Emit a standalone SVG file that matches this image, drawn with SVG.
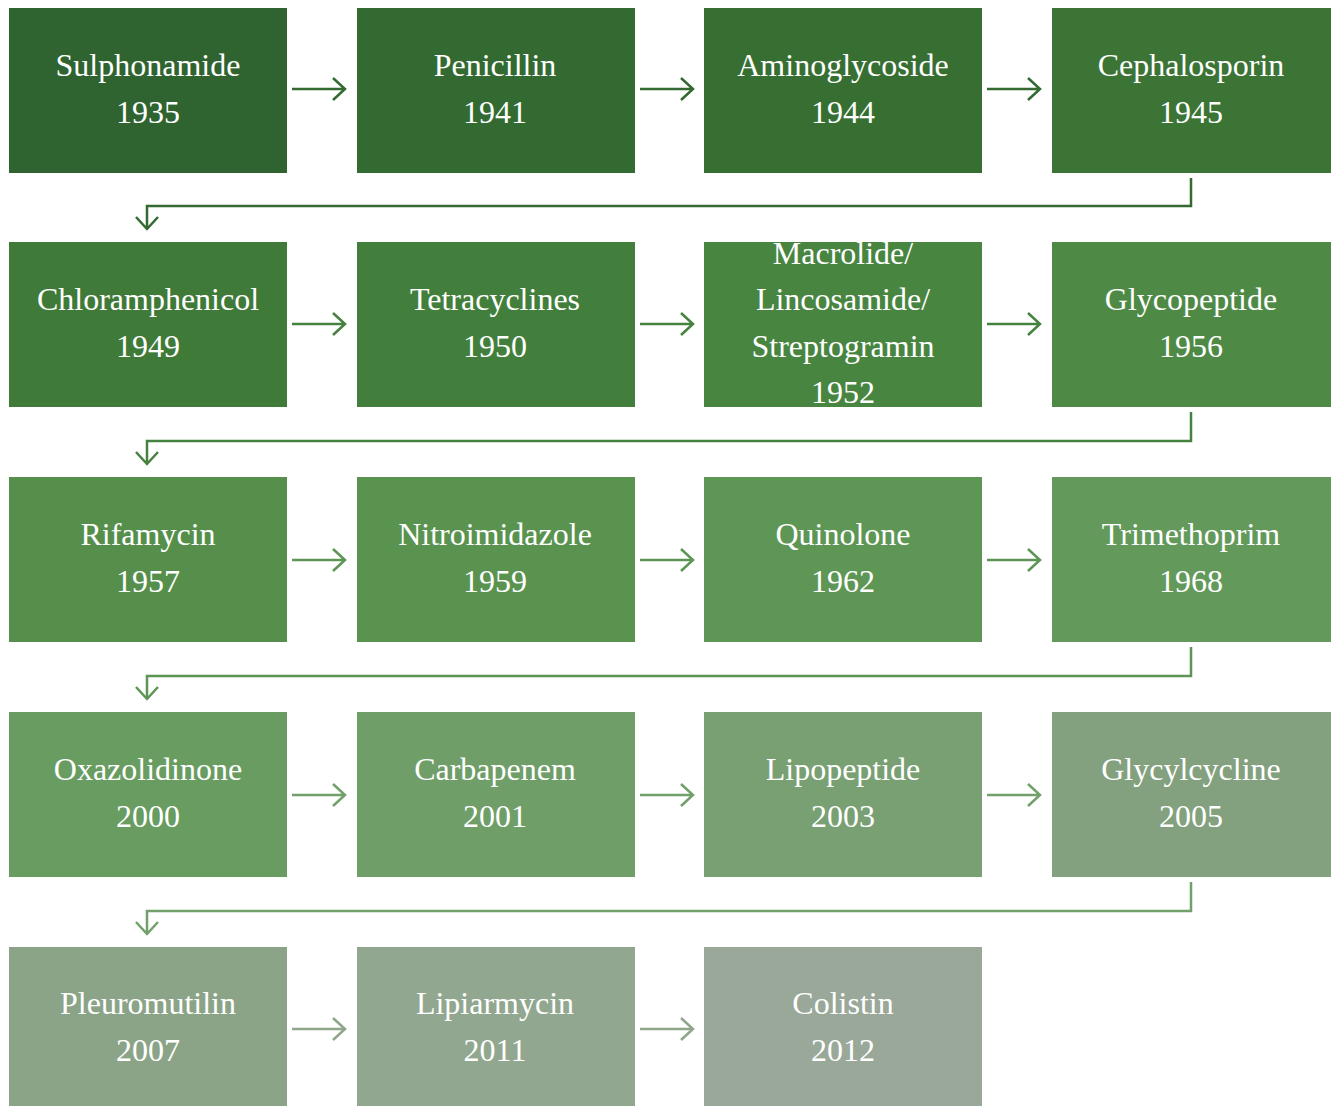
<svg xmlns="http://www.w3.org/2000/svg" width="1331" height="1106" viewBox="0 0 1331 1106">
<style>
.box text{font-family:'Liberation Serif','DejaVu Serif',serif;font-size:32px;fill:#ffffff;text-anchor:middle}
.conn path{fill:none;stroke-width:2.5;stroke-linecap:butt;stroke-linejoin:miter}
</style>
<rect width="1331" height="1106" fill="#ffffff"/>
<g id="n1" class="box"><rect x="9" y="8" width="278" height="165" fill="#2f6430"/><text x="148" y="76">Sulphonamide</text><text x="148" y="123">1935</text></g>
<g id="n2" class="box"><rect x="357" y="8" width="278" height="165" fill="#336a31"/><text x="495" y="76">Penicillin</text><text x="495" y="123">1941</text></g>
<g id="n3" class="box"><rect x="704" y="8" width="278" height="165" fill="#376f33"/><text x="843" y="76">Aminoglycoside</text><text x="843" y="123">1944</text></g>
<g id="n4" class="box"><rect x="1052" y="8" width="279" height="165" fill="#3b7435"/><text x="1191" y="76">Cephalosporin</text><text x="1191" y="123">1945</text></g>

<g id="n5" class="box"><rect x="9" y="242" width="278" height="165" fill="#3f7a39"/><text x="148" y="310">Chloramphenicol</text><text x="148" y="357">1949</text></g>
<g id="n6" class="box"><rect x="357" y="242" width="278" height="165" fill="#437f3c"/><text x="495" y="310">Tetracyclines</text><text x="495" y="357">1950</text></g>
<g id="n7" class="box"><rect x="704" y="242" width="278" height="165" fill="#488541"/><text x="843" y="264">Macrolide/</text><text x="843" y="310">Lincosamide/</text><text x="843" y="357">Streptogramin</text><text x="843" y="403">1952</text></g>
<g id="n8" class="box"><rect x="1052" y="242" width="279" height="165" fill="#4e8a45"/><text x="1191" y="310">Glycopeptide</text><text x="1191" y="357">1956</text></g>

<g id="n9" class="box"><rect x="9" y="477" width="278" height="165" fill="#558f4b"/><text x="148" y="545">Rifamycin</text><text x="148" y="592">1957</text></g>
<g id="n10" class="box"><rect x="357" y="477" width="278" height="165" fill="#5a9350"/><text x="495" y="545">Nitroimidazole</text><text x="495" y="592">1959</text></g>
<g id="n11" class="box"><rect x="704" y="477" width="278" height="165" fill="#5e9655"/><text x="843" y="545">Quinolone</text><text x="843" y="592">1962</text></g>
<g id="n12" class="box"><rect x="1052" y="477" width="279" height="165" fill="#639a5b"/><text x="1191" y="545">Trimethoprim</text><text x="1191" y="592">1968</text></g>

<g id="n13" class="box"><rect x="9" y="712" width="278" height="165" fill="#689c60"/><text x="148" y="780">Oxazolidinone</text><text x="148" y="827">2000</text></g>
<g id="n14" class="box"><rect x="357" y="712" width="278" height="165" fill="#6f9e68"/><text x="495" y="780">Carbapenem</text><text x="495" y="827">2001</text></g>
<g id="n15" class="box"><rect x="704" y="712" width="278" height="165" fill="#79a073"/><text x="843" y="780">Lipopeptide</text><text x="843" y="827">2003</text></g>
<g id="n16" class="box"><rect x="1052" y="712" width="279" height="165" fill="#83a17e"/><text x="1191" y="780">Glycylcycline</text><text x="1191" y="827">2005</text></g>

<g id="n17" class="box"><rect x="9" y="947" width="278" height="165" fill="#8ba487"/><text x="148" y="1014">Pleuromutilin</text><text x="148" y="1061">2007</text></g>
<g id="n18" class="box"><rect x="357" y="947" width="278" height="165" fill="#92a78f"/><text x="495" y="1014">Lipiarmycin</text><text x="495" y="1061">2011</text></g>
<g id="n19" class="box"><rect x="704" y="947" width="278" height="165" fill="#99a898"/><text x="843" y="1014">Colistin</text><text x="843" y="1061">2012</text></g>

<g id="connectors" class="conn">
<g stroke="#336a31">
<path d="M292 89H344M333 78L345 89L333 100"/>
<path d="M640 89H692M681 78L693 89L681 100"/>
<path d="M987 89H1039M1028 78L1040 89L1028 100"/>
<path d="M1191 178V206H147V228M136 217L147 229L158 217"/>
</g>
<g stroke="#458240">
<path d="M292 324H344M333 313L345 324L333 335"/>
<path d="M640 324H692M681 313L693 324L681 335"/>
<path d="M987 324H1039M1028 313L1040 324L1028 335"/>
<path d="M1191 412V441H147V463M136 452L147 464L158 452"/>
</g>
<g stroke="#5d9554">
<path d="M292 560H344M333 549L345 560L333 571"/>
<path d="M640 560H692M681 549L693 560L681 571"/>
<path d="M987 560H1039M1028 549L1040 560L1028 571"/>
<path d="M1191 647V676H147V698M136 687L147 699L158 687"/>
</g>
<g stroke="#72a06b">
<path d="M292 795H344M333 784L345 795L333 806"/>
<path d="M640 795H692M681 784L693 795L681 806"/>
<path d="M987 795H1039M1028 784L1040 795L1028 806"/>
<path d="M1191 882V911H147V933M136 922L147 934L158 922"/>
</g>
<g stroke="#8fa68b">
<path d="M292 1029H344M333 1018L345 1029L333 1040"/>
<path d="M640 1029H692M681 1018L693 1029L681 1040"/>
</g>
</g>
</svg>
